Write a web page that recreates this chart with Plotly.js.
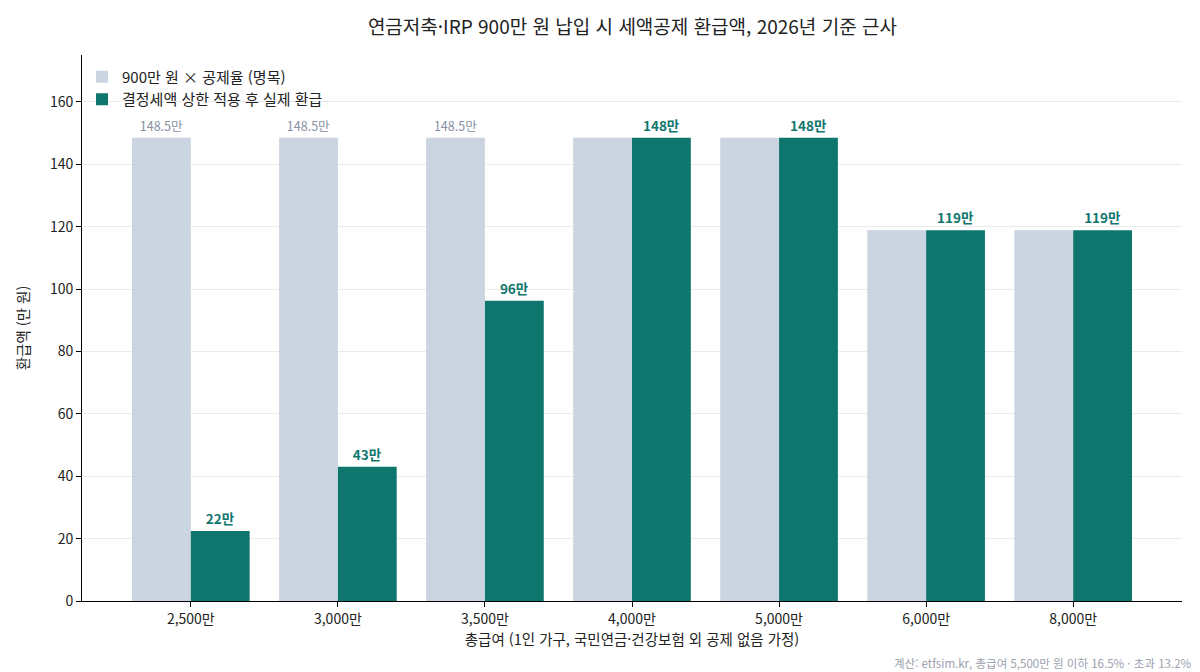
<!DOCTYPE html>
<html lang="ko">
<head>
    <meta charset="UTF-8">
    <title>IRP 세액공제</title>
    <script src="https://cdn.plot.ly/plotly-3.0.1.min.js"></script>
    <style>body{margin:0}</style>
</head>
<body>
<div id="plot" style="width:1200px;height:672px"></div>
<script>
    const salaries = ["2,500만", "3,000만", "3,500만", "4,000만", "5,000만", "6,000만", "8,000만"]
    const nominal = [148.5, 148.5, 148.5, 148.5, 148.5, 118.8, 118.8]
    const actual = [22.4, 43.0, 96.2, 148.5, 148.5, 118.8, 118.8]
    const nominalLabels = ["148.5만", "148.5만", "148.5만", "", "", "", ""]
    const actualLabels = ["22만", "43만", "96만", "148만", "148만", "119만", "119만"]

    const font = "'Noto Sans CJK KR', 'Noto Sans', sans-serif"

    const dataN = {
        x: salaries,
        y: nominal,
        name: '900만 원 × 공제율 (명목)',
        type: 'bar',
        marker: {color: '#cbd5e1'},
        text: nominalLabels,
        textposition: 'outside',
        textfont: {size: 12.5, color: '#8791a3'},
        cliponaxis: false,
        hoverinfo: 'y'
    }

    const dataA = {
        x: salaries,
        y: actual,
        name: '결정세액 상한 적용 후 실제 환급',
        type: 'bar',
        marker: {color: '#0f766e'},
        text: actualLabels.map(t => '<b>' + t + '</b>'),
        textposition: 'outside',
        textfont: {size: 13.5, color: '#0f766e'},
        cliponaxis: false,
        hoverinfo: 'y'
    }

    const layout = {
        width: 1200,
        height: 672,
        margin: {l: 82, r: 18, t: 55, b: 71},
        font: {family: font, size: 14, color: '#222'},
        barmode: 'group',
        bargap: 0.2,
        bargroupgap: 0,
        plot_bgcolor: 'white',
        paper_bgcolor: 'white',
        title: {
            text: '연금저축·IRP 900만 원 납입 시 세액공제 환급액, 2026년 기준 근사',
            font: {size: 19, color: '#222'},
            x: 0.527, xanchor: 'center', y: 0.96, yanchor: 'middle'
        },
        xaxis: {
            title: {text: '총급여 (1인 가구, 국민연금·건강보험 외 공제 없음 가정)', font: {size: 14.5}, standoff: 6},
            range: [-0.74, 6.74],
            showline: true, linecolor: '#000', linewidth: 1,
            ticks: 'outside', ticklen: 5, tickcolor: '#000',
            tickfont: {size: 14},
            showgrid: false
        },
        yaxis: {
            title: {text: '환급액 (만 원)', font: {size: 14.5}, standoff: 16},
            range: [0, 175],
            dtick: 20,
            showline: true, linecolor: '#000', linewidth: 1,
            ticks: 'outside', ticklen: 5, tickcolor: '#000',
            tickfont: {size: 14},
            gridcolor: '#ebebeb',
            zeroline: false
        },
        legend: {
            x: 0.0, y: 0.99, xanchor: 'left', yanchor: 'top',
            bgcolor: 'rgba(255,255,255,0)',
            font: {size: 15},
            tracegroupgap: 4
        },
        annotations: [{
            text: '계산: etfsim.kr, 총급여 5,500만 원 이하 16.5% · 초과 13.2%',
            xref: 'paper', yref: 'paper',
            x: 1.0105, y: -0.113, xanchor: 'right', yanchor: 'middle',
            showarrow: false,
            font: {size: 11.5, color: '#9aa1ad'}
        }]
    }

    Plotly.newPlot("plot", [dataN, dataA], layout, {displayModeBar: false})
</script>
</body>
</html>
